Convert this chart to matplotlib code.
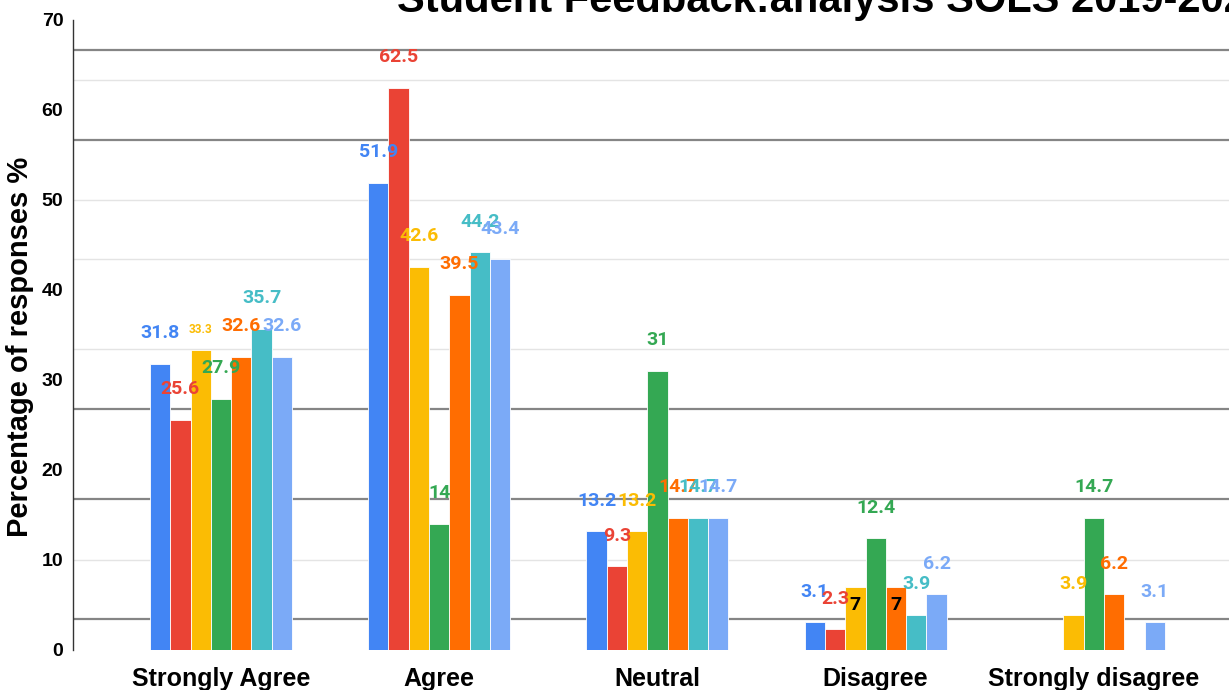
import numpy as np
import matplotlib.pyplot as plt

categories = ["Strongly Agree", "Agree", "Neutral", "Disagree", "Strongly disagree"]

# one list per series (7 bars in every group), nan = no bar
series_1 = [31.8, 51.9, 13.2, 3.1, np.nan]
series_2 = [25.6, 62.5, 9.3, 2.3, np.nan]
series_3 = [33.3, 42.6, 13.2, 7, 3.9]
series_4 = [27.9, 14, 31, 12.4, 14.7]
series_5 = [32.6, 39.5, 14.7, 7, 6.2]
series_6 = [35.7, 44.2, 14.7, 3.9, np.nan]
series_7 = [32.6, 43.4, 14.7, 6.2, 3.1]

y_ticks = [0, 10, 20, 30, 40, 50, 60, 70]
# odd horizontal lines seen in the source screenshot
grid_light = [10, 33.4, 43.4, 50, 63.3]
grid_dark = [3.4, 16.8, 26.8, 56.7, 66.7]

all_series = [series_1, series_2, series_3, series_4, series_5, series_6, series_7]
colors = ['#4285F4', '#EA4335', '#FBBC04', '#34A853', '#FF6D01', '#46BDC6', '#7BAAF7']

W, H = 1229, 690
fig = plt.figure(figsize=(W / 100, H / 100), dpi=100)
ax = fig.add_axes([73 / W, 40 / H, (W - 73) / W, 630 / H])

x = np.arange(len(categories))
bar_w = 0.093
n = len(all_series)

for ly in grid_light:
    ax.axhline(ly, color='#e4e4e4', lw=1.0, zorder=0)
for dy in grid_dark:
    ax.axhline(dy, color='#858585', lw=1.6, zorder=0)

for i, (vals, c) in enumerate(zip(all_series, colors)):
    xs = x + (i - (n - 1) / 2) * bar_w
    ax.bar(xs, vals, width=bar_w, color=c, edgecolor='white', linewidth=0.6, zorder=2)
    for xi, v in zip(xs, vals):
        if np.isnan(v):
            continue
        txt = f"{v:g}"
        size, off, col = 14, 22, c
        if c == '#FBBC04' and v == 33.3:
            size, off = 8.5, 15
        if v == 7:
            col, off = 'black', -13
        ax.annotate(txt, (xi, v), xytext=(0, off), textcoords='offset points',
                    ha='center', va='center', fontsize=size, color=col,
                    fontfamily='Roboto', fontweight='bold', zorder=3)

ax.set_xlim(-0.678, 4.619)
ax.set_ylim(0, 70)
ax.set_yticks(y_ticks)
ax.set_yticklabels([str(t) for t in y_ticks], fontfamily='Liberation Sans',
                   fontweight='bold', fontsize=14)
ax.set_xticks(x)
ax.set_xticklabels(categories, fontfamily='Liberation Sans', fontweight='bold', fontsize=18)
ax.tick_params(axis='x', length=0, pad=12)
ax.tick_params(axis='y', length=0, pad=7)

for s in ['top', 'right', 'bottom']:
    ax.spines[s].set_visible(False)
ax.spines['left'].set_color('#333333')
ax.spines['left'].set_linewidth(1.0)

ax.set_ylabel("Percentage of responses %", fontfamily='Liberation Sans',
              fontweight='bold', fontsize=21)
ax.yaxis.set_label_coords(-0.034, 0.481)

fig.text(397 / W, 1 - 12 / H, "Student Feedback:analysis SOLS 2019-2020",
         ha='left', va='baseline', fontfamily='Liberation Sans', fontweight='bold',
         fontsize=30)

fig.savefig("out.png", dpi=100)
